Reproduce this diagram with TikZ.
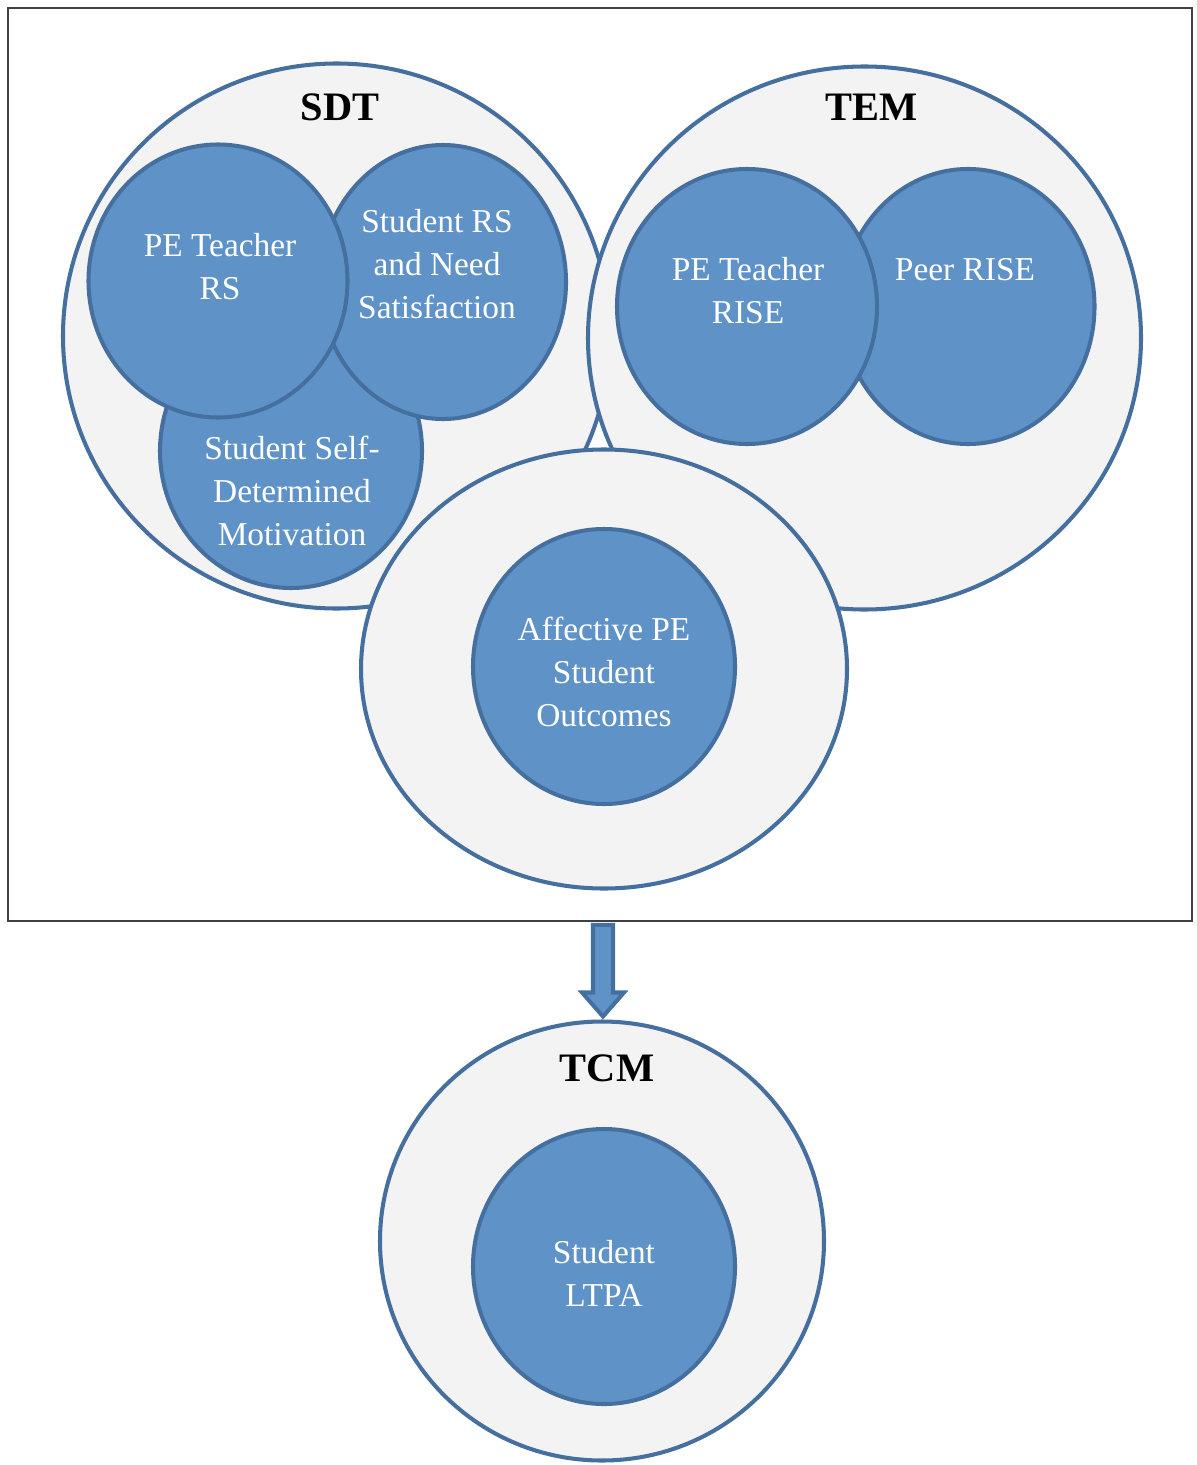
\documentclass[tikz,border=0pt]{standalone}
\usepackage{fontspec}
\setmainfont{Liberation Serif}
\usetikzlibrary{shapes.geometric}
\definecolor{ringgray}{HTML}{F3F3F3}
\definecolor{bubblefill}{HTML}{5F93C8}
\definecolor{bubbleline}{HTML}{456F9F}
\tikzset{
  theory/.style={ellipse,draw=bubbleline,fill=ringgray,line width=2.3pt,inner sep=0pt},
  construct/.style={ellipse,draw=bubbleline,fill=bubblefill,line width=2.3pt,inner sep=0pt},
  ctext/.style={text=white,align=center,font=\fontsize{19}{24.5}\selectfont},
  theoryname/.style={font=\bfseries\fontsize{23}{27}\selectfont},
  bigarrow/.style={draw=bubbleline,fill=bubblefill,line width=2.3pt,line join=miter},
}
\begin{document}
\begin{tikzpicture}
  \useasboundingbox (0,0) rectangle (23.92,-29.3);

  % outer frame
  \node[draw=black!75,line width=1.1pt,minimum width=23.68cm,minimum height=18.26cm] (frame) at (12.0,-9.29) {};

  % theories
  \node[theory,minimum width=10.94cm,minimum height=10.9cm] (sdt) at (6.73,-6.72) {};
  \node[theory,minimum width=11.06cm,minimum height=10.86cm] (tem) at (17.29,-6.76) {};
  \node[theory,minimum width=9.72cm,minimum height=8.78cm] (outc) at (12.08,-13.38) {};
  \node[theory,minimum width=8.88cm,minimum height=8.78cm] (tcm) at (12.04,-24.82) {};

  \node[theoryname] (sdtname) at (6.8,-2.14) {SDT};
  \node[theoryname] (temname) at (17.44,-2.14) {TEM};
  \node[theoryname] (tcmname) at (12.14,-21.36) {TCM};

  % SDT constructs
  \node[construct,minimum width=5.24cm,minimum height=5.48cm] (motiv) at (5.82,-9.02) {};
  \node[construct,minimum width=4.92cm,minimum height=5.48cm] (studrs) at (8.86,-5.64) {};
  \node[construct,minimum width=5.18cm,minimum height=5.46cm] (teachrs) at (4.36,-5.62) {};

  \node[ctext] (teachrstxt) at (4.4,-5.33) {PE Teacher\\RS};
  \node[ctext] (studrstxt) at (8.74,-5.28) {Student RS\\and Need\\Satisfaction};
  \node[ctext] (motivtxt) at (5.84,-9.82) {Student Self-\\Determined\\Motivation};

  % TEM constructs
  \node[construct,minimum width=5.06cm,minimum height=5.5cm] (peer) at (19.36,-6.13) {};
  \node[construct,minimum width=5.2cm,minimum height=5.5cm] (teachrise) at (14.94,-6.13) {};

  \node[ctext] (teachrisetxt) at (14.96,-5.81) {PE Teacher\\RISE};
  \node[ctext] (peertxt) at (19.3,-5.4) {Peer RISE};

  % outcomes
  \node[construct,minimum width=5.24cm,minimum height=5.5cm] (affect) at (12.08,-13.33) {};
  \node[ctext] (affecttxt) at (12.08,-13.44) {Affective PE\\Student\\Outcomes};

  \node[construct,minimum width=5.24cm,minimum height=5.5cm] (ltpa) at (12.08,-25.33) {};
  \node[ctext] (ltpatxt) at (12.08,-25.46) {Student\\LTPA};

  % frame to TCM
  \coordinate (arrtail) at ([xshift=0.06cm,yshift=-0.06cm]frame.south);
  \coordinate (arrtip) at ([xshift=0.02cm,yshift=0.06cm]tcm.north);
  \draw[bigarrow] ([xshift=-0.2cm]arrtail) -- ([xshift=-0.2cm,yshift=0.48cm]arrtip)
    -- ([xshift=-0.42cm,yshift=0.48cm]arrtip) -- (arrtip)
    -- ([xshift=0.42cm,yshift=0.48cm]arrtip) -- ([xshift=0.2cm,yshift=0.48cm]arrtip)
    -- ([xshift=0.2cm]arrtail) -- cycle;
\end{tikzpicture}
\end{document}
